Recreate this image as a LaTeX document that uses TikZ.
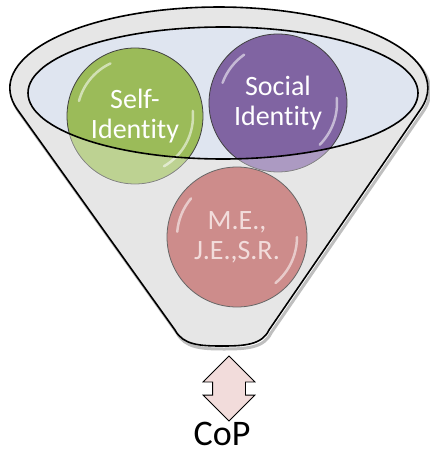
\documentclass[tikz,border=0pt]{standalone}
\usepackage{fontspec}
\setmainfont{Carlito}[Ligatures=NoCommon]
\usetikzlibrary{shapes.arrows}

\definecolor{selfgreen}{RGB}{155,187,89}
\definecolor{socialpurple}{RGB}{128,100,162}
\definecolor{mepink}{RGB}{205,140,139}
\definecolor{palepink}{RGB}{242,220,219}
\definecolor{funnelgray}{RGB}{230,230,230}
\definecolor{mouthblue}{RGB}{223,229,240}

\begin{document}
\begin{tikzpicture}[x=1pt, y=1pt,
  ball/.style={circle, draw=black!75, line width=0.8pt, inner sep=0pt, text=white, align=center, font=\fontsize{28}{30}\selectfont},
  gloss/.style={white, line width=2.5pt, opacity=0.55, line cap=round},
  rim/.style={draw=black, line width=1.6pt}]

\useasboundingbox (0,0) rectangle (429,-452);

%funnel shadow
\draw[black!25, line width=3pt, shift={(2,-3)}] (17,-109) arc[start angle=195, end angle=-15, x radius=209, y radius=81] -- (269,-330) .. controls (262,-345) and (244,-346) .. (222,-346) .. controls (200,-346) and (183,-345) .. (175,-330) -- cycle;

%funnel
\draw[rim, fill=funnelgray] (17,-109) arc[start angle=195, end angle=-15, x radius=209, y radius=81] -- (269,-330) .. controls (262,-345) and (244,-346) .. (222,-346) .. controls (200,-346) and (183,-345) .. (175,-330) -- cycle;

%mouth
\fill[mouthblue] (223,-93) ellipse [x radius=195, y radius=66];

%self
\node[ball, fill=selfgreen, minimum size=136] (self) at (135,-116) {Self-\\Identity};
%social
\node[ball, fill=socialpurple, minimum size=138] (social) at (278,-103) {Social\\Identity};

\draw[gloss] (self) ++(115:58) arc[start angle=115, end angle=165, radius=58];
\draw[gloss] (self) ++(-60:58) arc[start angle=-60, end angle=5, radius=58];
\draw[gloss] (social) ++(125:59) arc[start angle=125, end angle=160, radius=59];
\draw[gloss] (social) ++(-45:59) arc[start angle=-45, end angle=5, radius=59];

%under the mouth
\begin{scope}
\clip (self) circle (69) (social) circle (70);
\fill[white, opacity=0.35, even odd rule] (223,-93) ellipse [x radius=195, y radius=66] (0,0) rectangle (429,-452);
\end{scope}

%mouth rim
\draw[rim] (223,-93) ellipse [x radius=195, y radius=66];

%me
\node[ball, fill=mepink, text=palepink, draw=black!60, minimum size=140] (me) at (237,-237) {M.E.,\\J.E.,S.R.};

\draw[gloss] (me) ++(140:60) arc[start angle=140, end angle=175, radius=60];
\draw[gloss] (me) ++(-50:60) arc[start angle=-50, end angle=0, radius=60];

%link
\node[double arrow, rotate=90, draw=black, line width=0.8pt, fill=palepink, minimum height=65, inner xsep=0pt, inner ysep=16pt, double arrow head extend=9.5] (link) at (229,-388.5) {};

%cop
\node[font=\fontsize{36}{40}\selectfont, inner sep=0pt] (cop) at (222,-434) {CoP};

\end{tikzpicture}
\end{document}
